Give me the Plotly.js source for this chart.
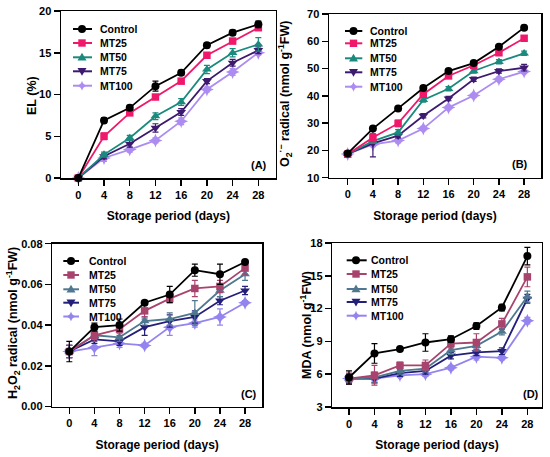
<!DOCTYPE html>
<html><head><meta charset="utf-8">
<script src="https://cdn.plot.ly/plotly-3.0.1.min.js"></script>
<style>html,body{margin:0;padding:0;background:#fff}#chart{width:550px;height:457px}</style>
</head><body><div id="chart"></div>
<script>
// ---------- data ----------
const days = [0, 4, 8, 12, 16, 20, 24, 28];
const xTickLabels = ['0', '4', '8', '12', '16', '20', '24', '28'];
const seriesNames = ['Control', 'MT25', 'MT50', 'MT75', 'MT100'];

// (A) EL (%)
const elControl = [0, 6.9, 8.4, 11.0, 12.6, 15.9, 17.4, 18.4];
const elMT25    = [0, 5.0, 7.8, 9.7, 11.6, 14.7, 16.4, 18.0];
const elMT50    = [0, 2.8, 4.8, 7.4, 9.1, 13.0, 15.0, 16.0];
const elMT75    = [0, 2.6, 4.1, 6.0, 7.9, 11.6, 13.8, 15.3];
const elMT100   = [0, 2.4, 3.4, 4.5, 6.8, 10.6, 12.7, 15.0];
const elErrControl = [0.2, 0.3, 0.3, 0.6, 0.3, 0.3, 0.3, 0.4];
const elErrMT25    = [0.2, 0.4, 0.3, 0.3, 0.3, 0.3, 0.3, 0.3];
const elErrMT50    = [0.2, 0.3, 0.3, 0.4, 0.4, 0.5, 0.5, 0.8];
const elErrMT75    = [0.2, 0.3, 0.4, 0.5, 0.4, 0.3, 0.4, 0.4];
const elErrMT100   = [0.2, 0.4, 0.3, 0.3, 0.4, 0.3, 0.4, 0.3];

// (B) O2·− radical
const o2Control = [18.9, 28.0, 35.4, 42.9, 49.1, 52.0, 58.0, 65.0];
const o2MT25    = [18.6, 24.7, 29.9, 40.6, 47.3, 51.2, 55.8, 61.1];
const o2MT50    = [18.7, 23.4, 26.6, 38.5, 42.6, 49.1, 52.5, 55.6];
const o2MT75    = [18.7, 22.6, 25.4, 32.7, 39.0, 46.1, 49.1, 50.3];
const o2MT100   = [18.7, 22.2, 23.6, 28.0, 35.7, 40.1, 46.1, 48.9];
const o2ErrControl = [0.5, 0.6, 0.6, 0.6, 0.6, 0.6, 0.8, 0.8];
const o2ErrMT25    = [0.5, 1.5, 1.2, 0.8, 0.8, 0.6, 0.8, 0.8];
const o2ErrMT50    = [0.5, 0.8, 1.0, 0.8, 0.8, 0.8, 0.8, 0.8];
const o2ErrMT75    = [0.5, 5.0, 0.8, 0.8, 0.8, 0.8, 0.8, 1.2];
const o2ErrMT100   = [0.5, 0.8, 0.8, 0.8, 0.8, 0.8, 0.8, 0.8];

// (C) H2O2 radical
const h2o2Control = [0.027, 0.039, 0.040, 0.051, 0.055, 0.067, 0.065, 0.071];
const h2o2MT25    = [0.027, 0.035, 0.038, 0.047, 0.053, 0.058, 0.059, 0.068];
const h2o2MT50    = [0.027, 0.035, 0.034, 0.042, 0.043, 0.046, 0.057, 0.065];
const h2o2MT75    = [0.027, 0.033, 0.032, 0.039, 0.042, 0.044, 0.052, 0.057];
const h2o2MT100   = [0.027, 0.029, 0.031, 0.030, 0.039, 0.041, 0.044, 0.051];
const h2o2ErrControl = [0.005, 0.002, 0.003, 0.001, 0.004, 0.003, 0.005, 0.001];
const h2o2ErrMT25    = [0.003, 0.003, 0.003, 0.003, 0.002, 0.004, 0.003, 0.003];
const h2o2ErrMT50    = [0.003, 0.002, 0.002, 0.002, 0.003, 0.006, 0.003, 0.003];
const h2o2ErrMT75    = [0.003, 0.002, 0.002, 0.004, 0.003, 0.003, 0.002, 0.002];
const h2o2ErrMT100   = [0.003, 0.004, 0.002, 0.001, 0.004, 0.002, 0.004, 0.001];

// (D) MDA
const mdaControl = [5.7, 7.9, 8.3, 8.9, 9.2, 10.4, 12.1, 16.8];
const mdaMT25    = [5.6, 5.9, 6.8, 6.8, 8.8, 8.9, 10.6, 14.9];
const mdaMT50    = [5.6, 5.7, 6.3, 6.5, 8.2, 8.6, 9.9, 13.1];
const mdaMT75    = [5.6, 5.6, 6.1, 6.3, 7.7, 8.0, 8.1, 12.9];
const mdaMT100   = [5.6, 5.6, 5.9, 6.0, 6.6, 7.6, 7.5, 10.9];
const mdaErrControl = [0.6, 0.9, 0.2, 0.8, 0.3, 0.3, 0.3, 0.8];
const mdaErrMT25    = [0.5, 0.9, 0.3, 0.5, 0.4, 0.8, 0.5, 0.9];
const mdaErrMT50    = [0.4, 0.5, 0.3, 0.3, 0.4, 0.4, 0.3, 0.5];
const mdaErrMT75    = [0.4, 0.4, 0.3, 0.3, 0.3, 0.3, 0.3, 0.4];
const mdaErrMT100   = [0.3, 0.3, 0.2, 0.2, 0.2, 0.3, 0.2, 0.3];

// ---------- styling ----------
const W = 550, H = 457;
const FONT = '"Liberation Sans", Arial, Helvetica, sans-serif';
const symbols = ['circle', 'square', 'triangle-up', 'triangle-down', 'star-diamond'];
const markerSizes = [8, 7.5, 8.5, 8.5, 10];
const colorsAB = ['#000000', '#f0186a', '#1a8a7e', '#3d1a70', '#ad8cf2'];
const colorsCD = ['#000000', '#a8436e', '#4f7890', '#24207a', '#9484f0'];

const panels = [
  { tag: '(A)', values: [elControl, elMT25, elMT50, elMT75, elMT100],
    errors: [elErrControl, elErrMT25, elErrMT50, elErrMT75, elErrMT100],
    colors: colorsAB, xpx: [61, 275.7], ypx: [11, 178], xrange: [-2.69, 30.7],
    yrange: [0, 20], dtick: 5, tickformat: '',
    ytitle: 'EL (%)', ytpos: [32, 96], xstand: 12,
    leg: { lx: [73, 92], mx: 82, tx: 98, rows: [29, 43, 57.3, 71.3, 85.7] },
    tagpos: [259, 165] },
  { tag: '(B)', values: [o2Control, o2MT25, o2MT50, o2MT75, o2MT100],
    errors: [o2ErrControl, o2ErrMT25, o2ErrMT50, o2ErrMT75, o2ErrMT100],
    colors: colorsAB, xpx: [329, 541], ypx: [14, 177.7], xrange: [-2.97, 30.68],
    yrange: [10, 70], dtick: 10, tickformat: '',
    ytitle: 'O<sub>2</sub><sup>·−</sup> radical (nmol g<sup>-1</sup>FW)', ytpos: [285, 94], xstand: 12,
    leg: { lx: [345, 362.3], mx: 353.5, tx: 367.7, rows: [31, 43.3, 58.3, 72.3, 86.7] },
    tagpos: [520, 164] },
  { tag: '(C)', values: [h2o2Control, h2o2MT25, h2o2MT50, h2o2MT75, h2o2MT100],
    errors: [h2o2ErrControl, h2o2ErrMT25, h2o2ErrMT50, h2o2ErrMT75, h2o2ErrMT100],
    colors: colorsCD, xpx: [52.3, 262], ypx: [243.7, 406.5], xrange: [-2.71, 30.7],
    yrange: [0, 0.08], dtick: 0.02, tickformat: '.2f',
    ytitle: 'H<sub>2</sub>O<sub>2</sub> radical (nmol g<sup>-1</sup>FW)', ytpos: [13, 323], xstand: 12,
    leg: { lx: [63.3, 79], mx: 71, tx: 86.5, rows: [261, 275, 289.3, 302.7, 316.5] },
    tagpos: [249, 394] },
  { tag: '(D)', values: [mdaControl, mdaMT25, mdaMT50, mdaMT75, mdaMT100],
    errors: [mdaErrControl, mdaErrMT25, mdaErrMT50, mdaErrMT75, mdaErrMT100],
    colors: colorsCD, xpx: [332.3, 541.7], ypx: [243, 407], xrange: [-2.62, 30.25],
    yrange: [3, 18], dtick: 3, tickformat: '',
    ytitle: 'MDA (nmol g<sup>-1</sup>FW)', ytpos: [306, 325], xstand: 12,
    leg: { lx: [346.7, 366.7], mx: 356, tx: 369.3, rows: [260.3, 274, 289, 302, 315.7] },
    tagpos: [531, 394] }
];

const px2x = v => v / W;
const px2y = v => 1 - v / H;

const traces = [];
const layout = {
  width: W, height: H,
  margin: { l: 0, r: 0, t: 0, b: 0 },
  paper_bgcolor: '#ffffff', plot_bgcolor: '#ffffff',
  font: { family: FONT, color: '#000000', size: 11, weight: 'bold' },
  showlegend: false,
  shapes: [], annotations: []
};

function markerShape(sym, x, y, color) {
  const base = { xref: 'paper', yref: 'paper', xsizemode: 'pixel', ysizemode: 'pixel',
    xanchor: x, yanchor: y, fillcolor: color, line: { width: 0 }, layer: 'above' };
  if (sym === 'circle') return Object.assign(base, { type: 'circle', x0: -4, x1: 4, y0: -4, y1: 4 });
  if (sym === 'square') return Object.assign(base, { type: 'rect', x0: -3.7, x1: 3.7, y0: -3.7, y1: 3.7 });
  if (sym === 'triangle-up') return Object.assign(base, { type: 'path', path: 'M-4.5,-3.2L4.5,-3.2L0,4.5Z' });
  if (sym === 'triangle-down') return Object.assign(base, { type: 'path', path: 'M-4.5,3.2L4.5,3.2L0,-4.5Z' });
  return Object.assign(base, { type: 'path', path: 'M0,5Q0.9,0.9 5,0Q0.9,-0.9 0,-5Q-0.9,-0.9 -5,0Q-0.9,0.9 0,5Z' });
}

panels.forEach((p, i) => {
  const sfx = i === 0 ? '' : String(i + 1);
  const xa = 'x' + sfx, ya = 'y' + sfx;
  // draw Control last so it sits on top, as in the reference
  for (let s = seriesNames.length - 1; s >= 0; s--) {
    traces.push({
      type: 'scatter', mode: 'lines+markers', name: seriesNames[s],
      x: days, y: p.values[s], xaxis: xa, yaxis: ya, cliponaxis: false,
      line: { color: p.colors[s], width: 1.8 },
      marker: { symbol: symbols[s], size: markerSizes[s], color: p.colors[s], line: { width: 0 } },
      error_y: { type: 'data', array: p.errors[s], visible: true, color: p.colors[s], thickness: 1.2, width: 3 }
    });
  }
  const common = {
    showline: true, mirror: true, linecolor: '#000000', linewidth: 1.5,
    ticks: 'outside', ticklen: 6, tickwidth: 1.5, tickcolor: '#000000',
    showgrid: false, zeroline: false, automargin: false,
    tickfont: { family: FONT, size: 11, weight: 'bold', color: '#000000' }
  };
  layout['xaxis' + sfx] = Object.assign({}, common, {
    domain: [px2x(p.xpx[0]), px2x(p.xpx[1])], range: p.xrange, anchor: ya,
    tickmode: 'array', tickvals: days, ticktext: xTickLabels,
    title: { text: 'Storage period (days)', font: { family: FONT, size: 12, weight: 'bold' }, standoff: p.xstand }
  });
  layout['yaxis' + sfx] = Object.assign({}, common, {
    domain: [px2y(p.ypx[1]), px2y(p.ypx[0])], range: p.yrange, anchor: xa,
    tick0: p.yrange[0], dtick: p.dtick, tickformat: p.tickformat
  });
  // y-axis title as a rotated text
  layout.annotations.push({ xref: 'paper', yref: 'paper', x: px2x(p.ytpos[0]), y: px2y(p.ytpos[1]),
    xanchor: 'center', yanchor: 'middle', textangle: -90, showarrow: false, text: p.ytitle,
    font: { family: FONT, size: 12.5, weight: 'bold', color: '#000000' } });
  // legend drawn as decorations
  seriesNames.forEach((nm, s) => {
    const yy = px2y(p.leg.rows[s]);
    layout.shapes.push({ type: 'line', xref: 'paper', yref: 'paper',
      x0: px2x(p.leg.lx[0]), x1: px2x(p.leg.lx[1]), y0: yy, y1: yy,
      line: { color: p.colors[s], width: 2 } });
    layout.shapes.push(markerShape(symbols[s], px2x(p.leg.mx), yy, p.colors[s]));
    layout.annotations.push({ xref: 'paper', yref: 'paper', x: px2x(p.leg.tx), y: yy,
      xanchor: 'left', yanchor: 'middle', showarrow: false, text: nm,
      font: { family: FONT, size: 10.5, weight: 'bold', color: '#000000' } });
  });
  layout.annotations.push({ xref: 'paper', yref: 'paper', x: px2x(p.tagpos[0]), y: px2y(p.tagpos[1]),
    xanchor: 'center', yanchor: 'middle', showarrow: false, text: p.tag,
    font: { family: FONT, size: 11, weight: 'bold', color: '#000000' } });
});

Plotly.newPlot('chart', traces, layout, { displayModeBar: false, staticPlot: true });
</script>
</body></html>
